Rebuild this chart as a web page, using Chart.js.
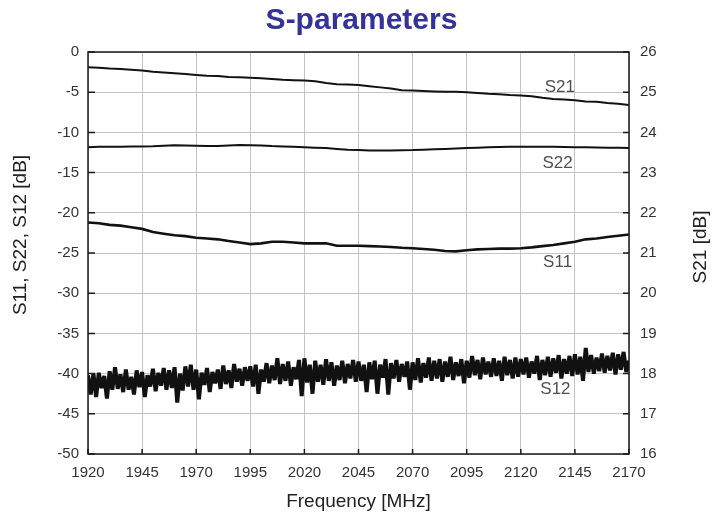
<!DOCTYPE html>
<html>
<head>
<meta charset="utf-8">
<script src="https://cdn.jsdelivr.net/npm/chart.js@4.4.1/dist/chart.umd.min.js"></script>
<style>
  body { margin: 0; background: #fff; }
  #wrap { width: 723px; height: 518px; }
</style>
</head>
<body>
<div id="wrap"><canvas id="myChart"></canvas></div>
<script>
// sweep points for the smooth traces (MHz)
const freq = [1920, 1925, 1930, 1935, 1940, 1945, 1950, 1955, 1960, 1965,
    1970, 1975, 1980, 1985, 1990, 1995, 2000, 2005, 2010, 2015,
    2020, 2025, 2030, 2035, 2040, 2045, 2050, 2055, 2060, 2065,
    2070, 2075, 2080, 2085, 2090, 2095, 2100, 2105, 2110, 2115,
    2120, 2125, 2130, 2135, 2140, 2145, 2150, 2155, 2160, 2165, 2170]

// S21 read on the right axis
const s21 = [25.62, 25.61, 25.59, 25.58, 25.56, 25.54, 25.51, 25.49, 25.47, 25.45,
    25.43, 25.41, 25.40, 25.38, 25.37, 25.36, 25.35, 25.33, 25.31, 25.30,
    25.29, 25.27, 25.23, 25.20, 25.19, 25.18, 25.15, 25.12, 25.09, 25.05,
    25.04, 25.03, 25.02, 25.01, 25.01, 25.00, 24.98, 24.96, 24.95, 24.93,
    24.92, 24.90, 24.86, 24.83, 24.82, 24.80, 24.77, 24.76, 24.73, 24.71, 24.68]

const s22 = [-11.85, -11.80, -11.80, -11.78, -11.75, -11.75, -11.72, -11.65, -11.60, -11.62,
    -11.65, -11.70, -11.68, -11.62, -11.58, -11.60, -11.62, -11.70, -11.75, -11.80,
    -11.85, -11.90, -11.95, -12.05, -12.15, -12.20, -12.25, -12.25, -12.25, -12.22,
    -12.20, -12.15, -12.10, -12.05, -12.00, -11.95, -11.90, -11.85, -11.82, -11.80,
    -11.78, -11.78, -11.80, -11.80, -11.82, -11.85, -11.85, -11.88, -11.90, -11.92, -11.95]

const s11 = [-21.2, -21.3, -21.5, -21.6, -21.8, -22.0, -22.4, -22.6, -22.8, -22.9,
    -23.1, -23.2, -23.3, -23.5, -23.7, -23.9, -23.8, -23.6, -23.6, -23.7,
    -23.8, -23.8, -23.8, -24.1, -24.1, -24.1, -24.15, -24.2, -24.25, -24.35,
    -24.4, -24.5, -24.6, -24.75, -24.8, -24.65, -24.55, -24.5, -24.45, -24.45,
    -24.4, -24.3, -24.15, -24.0, -23.8, -23.6, -23.3, -23.2, -23.0, -22.85, -22.7]

// S12 is noisy, so it has a finer sweep
const freqS12 = [1920, 1921.25, 1922.5, 1923.75, 1925, 1926.25, 1927.5, 1928.75, 1930, 1931.25,
    1932.5, 1933.75, 1935, 1936.25, 1937.5, 1938.75, 1940, 1941.25, 1942.5, 1943.75,
    1945, 1946.25, 1947.5, 1948.75, 1950, 1951.25, 1952.5, 1953.75, 1955, 1956.25,
    1957.5, 1958.75, 1960, 1961.25, 1962.5, 1963.75, 1965, 1966.25, 1967.5, 1968.75,
    1970, 1971.25, 1972.5, 1973.75, 1975, 1976.25, 1977.5, 1978.75, 1980, 1981.25,
    1982.5, 1983.75, 1985, 1986.25, 1987.5, 1988.75, 1990, 1991.25, 1992.5, 1993.75,
    1995, 1996.25, 1997.5, 1998.75, 2000, 2001.25, 2002.5, 2003.75, 2005, 2006.25,
    2007.5, 2008.75, 2010, 2011.25, 2012.5, 2013.75, 2015, 2016.25, 2017.5, 2018.75,
    2020, 2021.25, 2022.5, 2023.75, 2025, 2026.25, 2027.5, 2028.75, 2030, 2031.25,
    2032.5, 2033.75, 2035, 2036.25, 2037.5, 2038.75, 2040, 2041.25, 2042.5, 2043.75,
    2045, 2046.25, 2047.5, 2048.75, 2050, 2051.25, 2052.5, 2053.75, 2055, 2056.25,
    2057.5, 2058.75, 2060, 2061.25, 2062.5, 2063.75, 2065, 2066.25, 2067.5, 2068.75,
    2070, 2071.25, 2072.5, 2073.75, 2075, 2076.25, 2077.5, 2078.75, 2080, 2081.25,
    2082.5, 2083.75, 2085, 2086.25, 2087.5, 2088.75, 2090, 2091.25, 2092.5, 2093.75,
    2095, 2096.25, 2097.5, 2098.75, 2100, 2101.25, 2102.5, 2103.75, 2105, 2106.25,
    2107.5, 2108.75, 2110, 2111.25, 2112.5, 2113.75, 2115, 2116.25, 2117.5, 2118.75,
    2120, 2121.25, 2122.5, 2123.75, 2125, 2126.25, 2127.5, 2128.75, 2130, 2131.25,
    2132.5, 2133.75, 2135, 2136.25, 2137.5, 2138.75, 2140, 2141.25, 2142.5, 2143.75,
    2145, 2146.25, 2147.5, 2148.75, 2150, 2151.25, 2152.5, 2153.75, 2155, 2156.25,
    2157.5, 2158.75, 2160, 2161.25, 2162.5, 2163.75, 2165, 2166.25, 2167.5, 2168.75, 2170]

const s12 = [-40.2, -42.6, -40.0, -42.9, -39.9, -41.8, -40.3, -43.1, -39.7, -42.0,
    -39.2, -41.9, -40.1, -42.3, -39.5, -42.0, -40.4, -42.6, -39.6, -41.7,
    -39.8, -42.9, -40.2, -41.6, -39.4, -42.2, -39.9, -41.5, -39.3, -42.0,
    -39.6, -41.8, -39.2, -43.6, -40.0, -42.1, -39.1, -41.6, -38.9, -42.0,
    -39.5, -43.2, -39.9, -41.4, -39.3, -42.3, -39.8, -41.2, -39.5, -41.9,
    -39.0, -41.3, -39.6, -41.8, -38.8, -41.0, -39.4, -41.5, -39.2, -40.9,
    -39.1, -41.6, -38.9, -42.5, -39.5, -41.0, -38.7, -41.2, -39.0, -40.8,
    -38.1, -41.3, -38.8, -40.9, -38.5, -41.5, -39.2, -40.7, -38.3, -42.8,
    -38.1, -41.1, -38.9, -42.5, -38.4, -41.0, -38.9, -41.4, -38.2, -40.9,
    -38.6, -41.5, -39.0, -40.8, -38.4, -41.2, -38.8, -40.6, -38.3, -41.0,
    -38.5, -40.9, -38.9, -42.3, -38.6, -40.7, -38.4, -42.5, -38.9, -40.5,
    -38.2, -42.6, -38.7, -40.6, -38.3, -41.0, -38.8, -40.4, -38.5, -42.0,
    -38.6, -40.8, -38.1, -41.1, -38.7, -40.5, -38.0, -40.9, -38.4, -40.6,
    -38.2, -41.0, -38.5, -40.4, -37.9, -40.8, -38.6, -40.3, -38.2, -41.2,
    -38.4, -40.5, -37.8, -40.2, -38.3, -40.7, -38.0, -40.1, -38.5, -40.4,
    -38.1, -40.3, -38.4, -40.9, -37.9, -40.2, -38.3, -40.6, -38.0, -40.4,
    -38.2, -40.1, -38.0, -40.5, -38.5, -40.0, -37.8, -40.8, -38.3, -40.2,
    -37.9, -40.4, -38.1, -39.9, -37.7, -40.6, -38.2, -40.0, -37.8, -40.3,
    -37.6, -40.1, -37.9, -40.9, -36.8, -39.8, -37.7, -40.0, -38.0, -39.7,
    -37.5, -39.9, -37.8, -39.6, -37.4, -40.1, -37.6, -39.5, -37.3, -39.8, -38.4]

// trace names written inside the plot [name, MHz, dB on left axis]
const traceLabels = [['S21', 2138, -4.4], ['S22', 2137, -13.8], ['S11', 2137, -26.1], ['S12', 2136, -42.0]]

const fontFam = '"Liberation Sans", Arial, sans-serif'

const toPoints = (xs, ys) => xs.map((x, i) => ({ x: x, y: ys[i] }))

const frameAndText = {
    id: 'frameAndText',
    afterDatasetsDraw(chart) {
        const ctx = chart.ctx
        const area = chart.chartArea
        const xs = chart.scales.x
        const yl = chart.scales.y
        const yr = chart.scales.y2
        ctx.save()
        ctx.strokeStyle = '#1a1a1a'
        ctx.lineWidth = 1.5
        ctx.strokeRect(area.left, area.top, area.right - area.left, area.bottom - area.top)
        // inward tick marks
        ctx.beginPath()
        yl.ticks.forEach(t => {
            const p = yl.getPixelForValue(t.value)
            ctx.moveTo(area.left, p); ctx.lineTo(area.left + 7, p)
        })
        yr.ticks.forEach(t => {
            const p = yr.getPixelForValue(t.value)
            ctx.moveTo(area.right, p); ctx.lineTo(area.right - 6, p)
        })
        xs.ticks.forEach(t => {
            const p = xs.getPixelForValue(t.value)
            ctx.moveTo(p, area.bottom); ctx.lineTo(p, area.bottom - 5)
        })
        ctx.stroke()

        ctx.fillStyle = '#505050'
        ctx.font = '17px ' + fontFam
        ctx.textAlign = 'center'
        ctx.textBaseline = 'middle'
        traceLabels.forEach(l => {
            ctx.fillText(l[0], xs.getPixelForValue(l[1]), yl.getPixelForValue(l[2]))
        })

        // axis titles reading bottom to top on both sides
        ctx.fillStyle = '#222'
        ctx.font = '19px ' + fontFam
        ctx.translate(21, 235)
        ctx.rotate(-Math.PI / 2)
        ctx.fillText('S11, S22, S12 [dB]', 0, 0)
        ctx.restore()
        ctx.save()
        ctx.fillStyle = '#222'
        ctx.font = '19px ' + fontFam
        ctx.textAlign = 'center'
        ctx.textBaseline = 'middle'
        ctx.translate(701, 247)
        ctx.rotate(-Math.PI / 2)
        ctx.fillText('S21 [dB]', 0, 0)
        ctx.restore()
    }
}

function configGraphAndRender() {
    const grafica = document.querySelector('#myChart')
    const tickFont = { family: fontFam, size: 15 }
    const data = {
        datasets: [
            { label: 'S12', data: toPoints(freqS12, s12), borderColor: '#111', borderWidth: 4, borderJoinStyle: 'bevel', yAxisID: 'y' },
            { label: 'S11', data: toPoints(freq, s11), borderColor: '#111', borderWidth: 2.6, yAxisID: 'y' },
            { label: 'S22', data: toPoints(freq, s22), borderColor: '#111', borderWidth: 2, yAxisID: 'y' },
            { label: 'S21', data: toPoints(freq, s21), borderColor: '#111', borderWidth: 2, yAxisID: 'y2' }
        ]
    }
    const config = {
        type: 'line',
        data: data,
        plugins: [frameAndText],
        options: {
            responsive: true,
            maintainAspectRatio: false,
            animation: false,
            elements: { point: { radius: 0 }, line: { tension: 0 } },
            layout: { padding: 0 },
            plugins: {
                legend: { display: false },
                tooltip: { enabled: false },
                title: {
                    display: true,
                    text: 'S-parameters',
                    color: '#333399',
                    font: { family: fontFam, size: 30, weight: 'bold' },
                    padding: { top: 3, bottom: 13 }
                }
            },
            scales: {
                x: {
                    type: 'linear',
                    min: 1920,
                    max: 2170,
                    afterFit: s => { s.height = 64 },
                    border: { display: false },
                    grid: { color: '#c4c4c4', drawTicks: false },
                    ticks: { stepSize: 25, padding: 10, color: '#333', font: tickFont, maxRotation: 0, callback: v => String(v) },
                    title: { display: true, text: 'Frequency [MHz]', color: '#222', font: { family: fontFam, size: 19 }, padding: { top: 0, bottom: 5 } }
                },
                y: {
                    position: 'left',
                    min: -50,
                    max: 0,
                    afterFit: s => { s.width = 88 },
                    border: { display: false },
                    grid: { color: '#c4c4c4', drawTicks: false },
                    ticks: { stepSize: 5, padding: 9, color: '#333', font: tickFont }
                },
                y2: {
                    position: 'right',
                    min: 16,
                    max: 26,
                    afterFit: s => { s.width = 94 },
                    border: { display: false },
                    grid: { drawOnChartArea: false, drawTicks: false },
                    ticks: { stepSize: 1, padding: 11, color: '#333', font: tickFont }
                }
            }
        }
    }
    new Chart(grafica, config)
}

document.addEventListener('DOMContentLoaded', (event) => {
    configGraphAndRender()
})
</script>
</body>
</html>
